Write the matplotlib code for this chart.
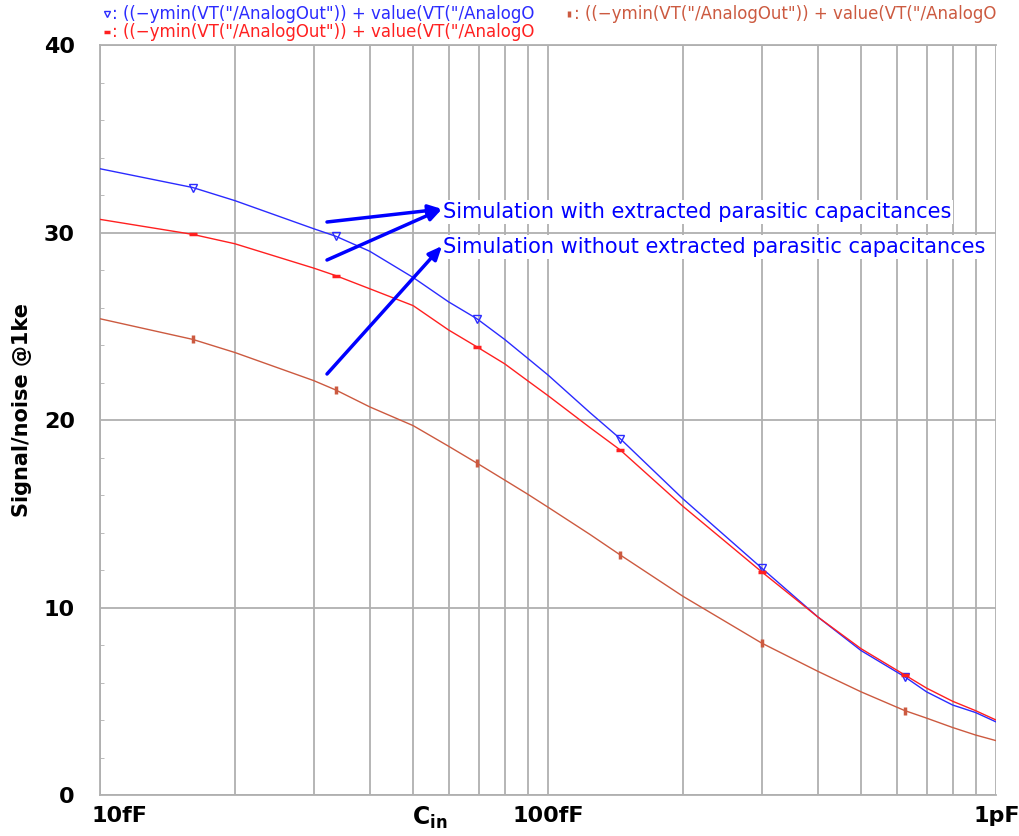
import matplotlib
matplotlib.use("Agg")
import matplotlib.pyplot as plt
import numpy as np
import matplotlib.transforms as mtransforms
from matplotlib.lines import Line2D
from matplotlib.ticker import FixedLocator, NullFormatter, MultipleLocator

# ---- data (capacitance in fF) ----
cin_fF = [10, 16.1, 20, 30, 33.6, 40, 50, 60, 69.4, 80, 90, 100, 124, 145, 200,
          300, 400, 500, 626, 700, 800, 900, 1000]
snr_blue = [33.4, 32.4, 31.7, 30.2, 29.8, 29.0, 27.6, 26.3, 25.4, 24.3, 23.3, 22.4,
            20.4, 19.0, 15.8, 12.1, 9.5, 7.7, 6.3, 5.5, 4.8, 4.4, 3.9]
snr_red = [30.7, 29.9, 29.4, 28.1, 27.7, 27.0, 26.1, 24.8, 23.9, 23.0, 22.1, 21.3,
           19.6, 18.4, 15.4, 11.9, 9.5, 7.8, 6.4, 5.7, 5.0, 4.5, 4.0]
snr_brown = [25.4, 24.3, 23.6, 22.1, 21.6, 20.7, 19.7, 18.6, 17.7, 16.8, 16.05, 15.35,
             13.9, 12.8, 10.6, 8.1, 6.6, 5.5, 4.5, 4.1, 3.6, 3.2, 2.9]
marker_idx = [1, 4, 8, 13, 15, 18]

x_ticks = [10, 100, 1000]
x_ticklabels = ["10fF", "100fF", "1pF"]
y_ticks = [0, 10, 20, 30, 40]

legend_expr = ': ((\u2212ymin(VT("/AnalogOut")) + value(VT("/AnalogO'
note_with = "Simulation with extracted parasitic capacitances"
note_without = "Simulation without extracted parasitic capacitances"

W, H = 1020, 836
fig = plt.figure(figsize=(W / 100, H / 100), dpi=100)
L, R, T, B = 100, 996, 45, 795
ax = fig.add_axes([L / W, 1 - B / H, (R - L) / W, (B - T) / H])

def fp(x, y):
    return (x / W, 1 - y / H)

blue = "#2b2bff"
red = "#ff2020"
brown = "#cc5a40"

ax.plot(cin_fF, snr_blue, color=blue, lw=1.0, marker="v", mfc="none", mec=blue,
        ms=6, mew=1.0, markevery=marker_idx, zorder=3)
ax.plot(cin_fF, snr_red, color=red, lw=1.0, marker="_", mfc="none", mec=red,
        ms=6, mew=2.5, markevery=marker_idx, zorder=3)
ax.plot(cin_fF, snr_brown, color=brown, lw=1.0, marker="|", mfc="none", mec=brown,
        ms=6, mew=2.5, markevery=marker_idx, zorder=3)

ax.set_xscale("log")
ax.set_xlim(10, 1000)
ax.set_ylim(0, 40)

grid_c = "#b0b0b0"
ax.xaxis.set_major_locator(FixedLocator(x_ticks))
ax.xaxis.set_minor_locator(FixedLocator([m * 10 ** d for d in (1, 2) for m in range(2, 10)]))
ax.xaxis.set_minor_formatter(NullFormatter())
ax.set_xticklabels(x_ticklabels)
ax.yaxis.set_major_locator(FixedLocator(y_ticks))
ax.yaxis.set_minor_locator(MultipleLocator(2))
ax.grid(True, which="major", axis="both", color=grid_c, lw=1.3)
ax.grid(True, which="minor", axis="x", color=grid_c, lw=1.3)
ax.set_axisbelow(True)

for s in ["left", "bottom", "top"]:
    ax.spines[s].set_color(grid_c)
    ax.spines[s].set_linewidth(1.3)
ax.spines["right"].set_visible(False)

ax.tick_params(axis="x", which="both", length=0, pad=8, labelsize=16)
ax.tick_params(axis="y", which="major", length=0, pad=18, labelsize=16)
ax.tick_params(axis="y", which="minor", length=3, direction="in", color=grid_c)
for lab in ax.get_xticklabels() + ax.get_yticklabels():
    lab.set_fontweight("bold")
xl = ax.get_xticklabels()
xl[0].set_horizontalalignment("left")
xl[-1].set_horizontalalignment("right")
xl[0].set_transform(xl[0].get_transform() + mtransforms.ScaledTranslation(-8 / 100, 0, fig.dpi_scale_trans))
xl[-1].set_transform(xl[-1].get_transform() + mtransforms.ScaledTranslation(24 / 100, 0, fig.dpi_scale_trans))

fig.text(*fp(430, 818), r"C$_{\mathbf{in}}$", ha="center", va="center",
         fontsize=17, fontweight="bold")
fig.text(*fp(22, 410), "Signal/noise @1ke", rotation=90, ha="center", va="center",
         fontsize=15, fontweight="bold")

# legend header
legend_items = [((103, 14), blue, "v", 1.0), ((103, 32), red, "_", 2.5),
                ((565, 14), brown, "|", 2.5)]
for (x, y), c, m, mw in legend_items:
    fig.add_artist(Line2D([(x + 4) / W], [1 - y / H], marker=m, color=c, mfc="none",
                          mec=c, ms=5, mew=mw, transform=fig.transFigure))
    fig.text(*fp(x + 9, y), legend_expr, color=c, fontsize=12,
             ha="left", va="center")

# annotations
bbox = dict(boxstyle="square,pad=0.1", fc="white", ec="none")
fig.text(*fp(443, 212), note_with, color="#0000ff", fontsize=15, ha="left",
         va="center", bbox=bbox)
fig.text(*fp(443, 247), note_without, color="#0000ff", fontsize=15, ha="left",
         va="center", bbox=bbox)
arrow = dict(arrowstyle="-|>,head_length=0.8,head_width=0.35", color="#0000ff",
             lw=2.5, shrinkA=0, shrinkB=0)
for (x0, y0), (x1, y1) in [((327, 222), (442, 209)), ((327, 260), (442, 209)),
                           ((327, 374), (442, 246))]:
    ax.annotate("", xy=fp(x1, y1), xytext=fp(x0, y0), xycoords="figure fraction",
                textcoords="figure fraction", arrowprops=arrow)

fig.savefig("out.png", dpi=100)
